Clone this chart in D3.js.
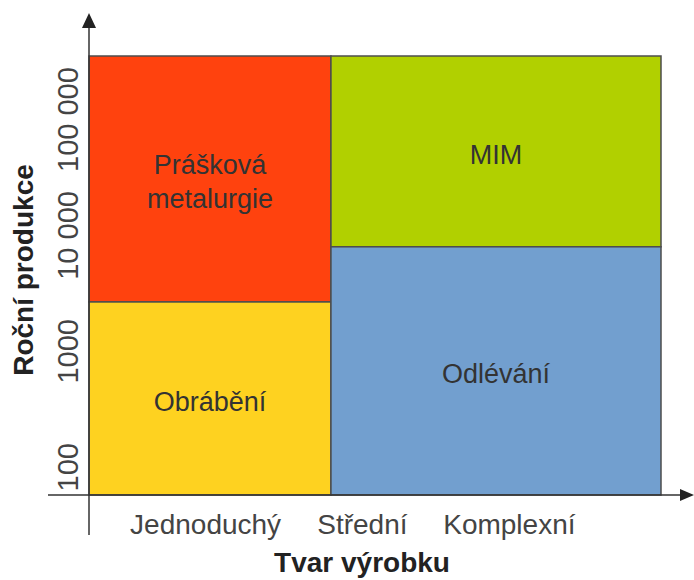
<!DOCTYPE html>
<html>
<head>
<meta charset="utf-8">
<script src="https://cdn.jsdelivr.net/npm/d3@7"></script>
<style>
  body { margin: 0; background: #fff; }
  text { font-family: "Liberation Sans", Arial, sans-serif; }
</style>
</head>
<body>
<div id="chart"></div>
<script>
// shape complexity categories (position on a 0-10 complexity scale)
var shapes = ["Jednoduchý", "Střední", "Komplexní"];
var shapePos = [2.03, 4.77, 7.34];

// annual production ticks
var volumeTicks = [100, 1000, 10000, 100000];
var volumeLabels = ["100", "1000", "10 000", "100 000"];

// process regions
var methods = ["Prášková metalurgie", "Obrábění", "MIM", "Odlévání"];
var shapeFrom = [0, 0, 4.23, 4.23];
var shapeTo = [4.23, 4.23, 10, 10];
var volumeFrom = [2640, 57, 7900, 57];
var volumeTo = [350000, 2640, 350000, 7900];

var colors = ["#ff420e", "#fed220", "#b1d000", "#729fcf"];

var width = 694, height = 580;

var color = d3.scaleOrdinal(methods, colors);

var x = d3.scaleLinear()
    .domain([0, 10])
    .range([89, 661]);

var y = d3.scaleLog()
    .domain([57, 350000])
    .range([495, 56]);

var svg = d3.select("#chart")
    .append("svg")
    .attr("width", width)
    .attr("height", height);

var regions = methods.map(function(m, i) {
    return {name: m, x0: shapeFrom[i], x1: shapeTo[i], v0: volumeFrom[i], v1: volumeTo[i]};
});

var cell = svg.selectAll(".region")
    .data(regions)
    .enter().append("g")
    .attr("class", "region");

cell.append("rect")
    .attr("x", function(d) { return x(d.x0); })
    .attr("y", function(d) { return y(d.v1); })
    .attr("width", function(d) { return x(d.x1) - x(d.x0); })
    .attr("height", function(d) { return y(d.v0) - y(d.v1); })
    .style("fill", function(d) { return color(d.name); })
    .style("stroke", "#4d4d4d")
    .style("stroke-width", 1.5);

cell.append("text")
    .attr("text-anchor", "middle")
    .attr("font-size", 27)
    .attr("fill", "#333")
    .each(function(d) {
        var words = d.name.split(" ");
        var cx = (x(d.x0) + x(d.x1)) / 2;
        var cy = (y(d.v0) + y(d.v1)) / 2;
        var t = d3.select(this);
        words.forEach(function(w, k) {
            t.append("tspan")
                .attr("x", cx)
                .attr("y", cy + (k - (words.length - 1) / 2) * 34 + 3)
                .attr("dy", "0.35em")
                .text(w);
        });
    });

// axes
var yAxis = d3.axisLeft(y)
    .tickValues(volumeTicks)
    .tickFormat(function(d, i) { return volumeLabels[i]; })
    .tickSize(0);

var gy = svg.append("g")
    .attr("transform", "translate(" + x(0) + ",0)")
    .call(yAxis);
gy.select(".domain").remove();
gy.selectAll("text")
    .attr("font-size", 29)
    .attr("fill", "#444")
    .attr("font-family", "Liberation Sans, Arial, sans-serif")
    .attr("text-anchor", "middle")
    .attr("x", 0)
    .attr("dy", 0)
    .attr("transform", function() {
        return "translate(-11,0) rotate(-90)";
    });

var xAxis = d3.axisBottom(x)
    .tickValues(shapePos)
    .tickFormat(function(d, i) { return shapes[i]; })
    .tickSize(0);

var gx = svg.append("g")
    .attr("transform", "translate(0," + y(57) + ")")
    .call(xAxis);
gx.select(".domain").remove();
gx.selectAll("text")
    .attr("font-size", 28)
    .attr("fill", "#444")
    .attr("font-family", "Liberation Sans, Arial, sans-serif")
    .attr("dy", 0)
    .attr("y", 39);

// axis lines with arrows
var axisColor = "#333";
svg.append("line")
    .attr("x1", x(0)).attr("x2", x(0))
    .attr("y1", 24).attr("y2", 535)
    .style("stroke", axisColor).style("stroke-width", 1.5);
svg.append("path")
    .attr("d", "M" + x(0) + ",13L" + (x(0) - 7) + ",28L" + (x(0) + 7) + ",28Z")
    .style("fill", "#222");

svg.append("line")
    .attr("x1", 48).attr("x2", 684)
    .attr("y1", y(57)).attr("y2", y(57))
    .style("stroke", axisColor).style("stroke-width", 1.5);
svg.append("path")
    .attr("d", "M694," + y(57) + "L680," + (y(57) - 6) + "L680," + (y(57) + 6) + "Z")
    .style("fill", "#222");

// axis titles
svg.append("text")
    .attr("transform", "translate(33," + 270 + ") rotate(-90)")
    .attr("text-anchor", "middle")
    .attr("font-size", 28)
    .attr("font-weight", "bold")
    .attr("fill", "#222")
    .text("Roční produkce");

svg.append("text")
    .attr("x", 362)
    .attr("y", 572)
    .attr("text-anchor", "middle")
    .attr("font-size", 28)
    .attr("font-weight", "bold")
    .attr("fill", "#222")
    .text("Tvar výrobku");
</script>
</body>
</html>
